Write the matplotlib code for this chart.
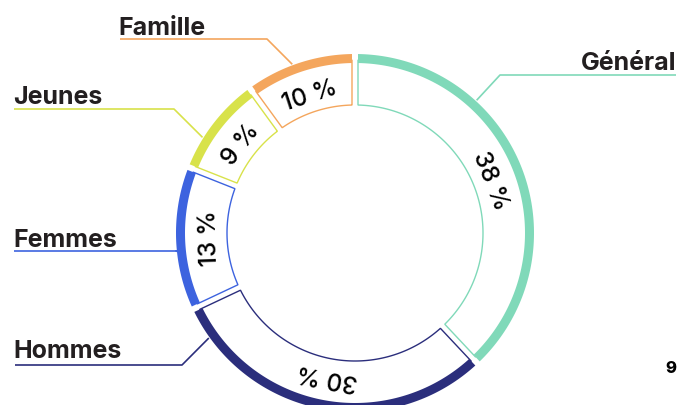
import numpy as np
import matplotlib.pyplot as plt
from matplotlib.patches import Polygon

# data
categories = ['Général', 'Hommes', 'Femmes', 'Jeunes', 'Famille']
shares = [38, 30, 13, 9, 10]
colors = ['#80d9b9', '#2b2e7c', '#3d63df', '#d8e24a', '#f4a65d']
page_number = '9'

# layout in pixel coordinates (y pointing down)
cx, cy = 355, 234
r_in, r_band, r_out = 128, 170, 179
r_text = 145
half_gap = 3.0
text_color = '#231f20'

# label: text anchor, horizontal alignment, line x range, line y, attach angle
label_layout = {
    'Général': ((676, 70), 'right', (676, 500), 76, 47.5),
    'Hommes': ((13, 358), 'left', (15, 182), 366, 215.7),
    'Femmes': ((13, 247), 'left', (14, 177), 252, 185.9),
    'Jeunes': ((13, 104), 'left', (14, 174), 110, 147.9),
    'Famille': ((118, 35), 'left', (120, 267), 40, 110.4),
}


def pt(r, ang):
    a = np.radians(ang)
    return cx + r * np.cos(a), cy - r * np.sin(a)


def ring_poly(a_start, a_end, r1, r2):
    # a_start > a_end (clockwise), constant pixel gap at the edges
    d1 = np.degrees(np.arcsin(half_gap / r1))
    d2 = np.degrees(np.arcsin(half_gap / r2))
    outer = [pt(r2, a) for a in np.linspace(a_start - d2, a_end + d2, 120)]
    inner = [pt(r1, a) for a in np.linspace(a_end + d1, a_start - d1, 120)]
    return outer + inner


plt.rcParams['font.family'] = ['Inter', 'DejaVu Sans']
fig = plt.figure(figsize=(6.91, 4.06), dpi=100)
ax = fig.add_axes([0, 0, 1, 1])
ax.set_xlim(0, 691)
ax.set_ylim(406, 0)
ax.set_aspect('equal')
ax.axis('off')

angles = 90 - 360 * np.concatenate([[0], np.cumsum(shares)]) / sum(shares)

for i, (cat, col) in enumerate(zip(categories, colors)):
    a0, a1 = angles[i], angles[i + 1]
    ax.add_patch(Polygon(ring_poly(a0, a1, r_in, r_band + 3), closed=True,
                         facecolor='white', edgecolor=col, linewidth=1.0))
    ax.add_patch(Polygon(ring_poly(a0, a1, r_band, r_out), closed=True,
                         facecolor=col, edgecolor='none'))

    mid = (a0 + a1) / 2
    tx, ty = pt(r_text, mid)
    ax.text(tx, ty, f'{shares[i]} %', rotation=mid - 90, rotation_mode='anchor',
            ha='center', va='center', fontsize=17.5, fontweight='medium',
            color='black')

    (lx, ly), ha, (x0, x1), yl, att = label_layout[cat]
    ex, ey = pt(r_out + 1, att)
    ax.plot([x0, x1, ex], [yl, yl, ey], color=col, linewidth=1.2,
            solid_capstyle='butt')
    ax.text(lx, ly, cat, ha=ha, va='baseline', fontsize=18,
            fontweight='bold', color=text_color)

ax.text(676, 373, page_number, ha='right', va='baseline', fontsize=12,
        fontweight='heavy', color='black')

fig.savefig('out.png', dpi=100)
